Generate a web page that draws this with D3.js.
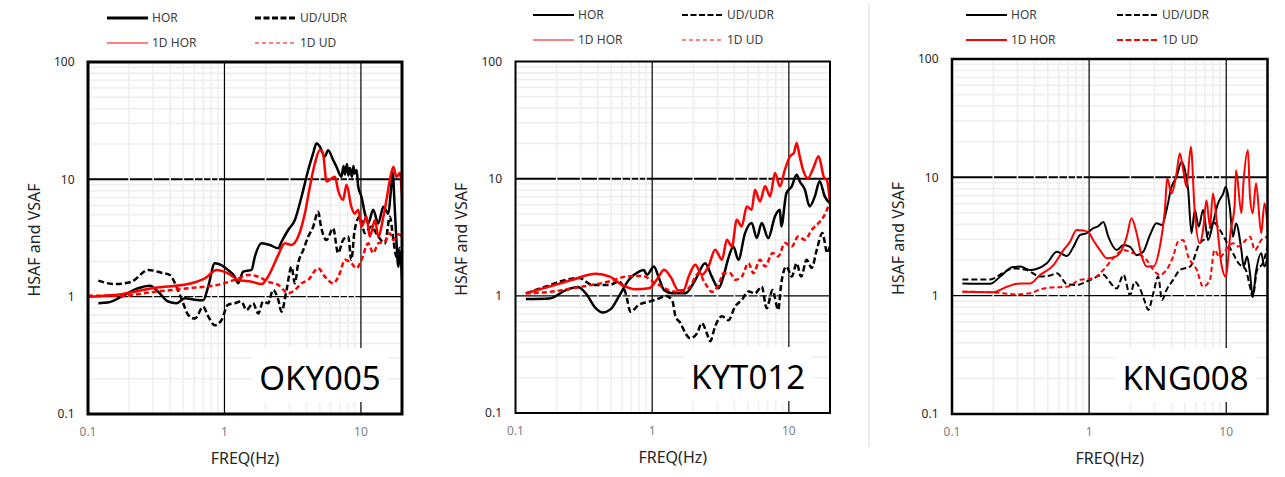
<!DOCTYPE html>
<html>
<head>
<meta charset="utf-8">
<script src="https://cdn.jsdelivr.net/npm/d3@7"></script>
<style>
  body { margin: 0; background: #fff; }
  svg { display: block; }
  text { font-family: "Noto Sans", sans-serif; }
</style>
</head>
<body>
<div id="chart"></div>
<script>
// ---------- data: [frequency Hz, amplification]
var okyHor = [[0.119,0.88],[0.14,0.89],[0.176,1.0],[0.233,1.18],[0.284,1.24],[0.327,1.10],[0.386,0.91],[0.445,0.88],[0.513,0.97],[0.607,0.94],[0.698,0.93],[0.76,1.22],[0.85,1.93],[0.95,1.86],[1.06,1.69],[1.19,1.48],[1.26,1.30],[1.37,1.63],[1.58,1.69],[1.67,2.19],[1.87,2.85],[2.15,2.76],[2.48,2.58],[2.62,2.94],[2.93,3.7],[3.28,4.5],[3.67,7.1],[4.11,12],[4.47,16.7],[4.73,20.3],[5.0,19],[5.44,15.6],[5.75,17.7],[6.26,14.6],[6.62,12.8],[7.2,10.5],[7.45,13],[7.63,11],[7.9,13.5],[8.1,10.8],[8.3,12.5],[8.6,10.5],[8.8,13],[9.0,11.2],[9.3,12],[9.55,8.7],[10.1,7.1],[10.7,5.1],[11.3,4.2],[12.3,5.5],[13.4,4.2],[14.6,5.85],[15.9,5.1],[16.5,7.5],[17.1,11.5],[17.6,6.5],[18.2,3.0],[18.8,1.8],[19.4,2.4],[20,1.4]];
var okyUd = [[0.119,1.37],[0.157,1.28],[0.208,1.34],[0.276,1.69],[0.345,1.60],[0.398,1.53],[0.445,1.22],[0.498,0.88],[0.542,0.70],[0.607,0.65],[0.698,0.82],[0.76,0.68],[0.85,0.57],[0.95,0.63],[1.06,0.85],[1.19,0.88],[1.33,0.91],[1.45,0.77],[1.62,0.88],[1.77,0.72],[1.92,0.91],[2.09,0.88],[2.27,1.14],[2.48,0.94],[2.62,0.745],[2.85,1.14],[3.1,1.80],[3.28,1.30],[3.47,1.93],[3.78,2.5],[4.11,3.25],[4.47,3.95],[4.86,5.3],[5.1,3.95],[5.6,3.04],[6.26,3.83],[6.8,2.35],[7.4,3.04],[8.07,3.25],[8.5,2.06],[9.0,3.7],[9.8,4.8],[10.7,3.47],[11.9,3.95],[13.4,3.25],[15.0,2.85],[16.3,4.8],[17.3,3.04],[18.2,2.19],[19.3,2.6],[20,2.19]];
var okyHor1d = [[0.1,1.0],[0.176,1.05],[0.309,1.19],[0.542,1.28],[0.718,1.43],[0.88,1.69],[1.06,1.58],[1.26,1.39],[1.58,1.34],[1.87,1.28],[2.15,1.58],[2.48,2.27],[2.77,2.85],[3.1,2.76],[3.47,3.25],[3.88,5.1],[4.23,8.7],[4.6,13.7],[5.0,17.8],[5.27,16.7],[5.6,9.6],[6.1,10.2],[6.45,10.5],[6.8,8.1],[7.4,6.7],[7.85,9.0],[8.5,5.85],[9.0,5.1],[9.55,5.5],[10.1,3.95],[11,4.8],[11.6,3.25],[12.7,4.5],[13.4,3.25],[14.6,4.8],[15.4,6.7],[16.3,9.9],[17.3,12.8],[18.2,10.5],[19.3,11.3],[20,7.1]];
var okyUd1d = [[0.1,1.02],[0.176,1.02],[0.309,1.10],[0.542,1.18],[0.95,1.28],[1.26,1.43],[1.49,1.53],[1.77,1.48],[2.09,1.34],[2.48,1.26],[2.93,1.07],[3.28,1.14],[3.67,1.30],[4.11,1.39],[4.86,1.75],[5.44,1.48],[6.26,1.30],[7.0,1.58],[7.63,2.06],[8.5,1.93],[9.3,1.75],[10.1,2.06],[11.3,2.85],[12.3,2.35],[13.4,2.85],[15.0,2.95],[16.3,3.47],[17.3,3.04],[18.8,3.4],[20,3.25]];

var kytHor = [[0.119,0.94],[0.177,0.95],[0.234,1.12],[0.285,1.19],[0.327,1.05],[0.386,0.785],[0.433,0.72],[0.497,0.77],[0.571,0.99],[0.676,1.37],[0.80,1.61],[0.869,1.66],[0.916,1.51],[1.03,1.78],[1.12,1.42],[1.22,1.12],[1.40,1.05],[1.75,1.05],[2.07,1.37],[2.44,1.90],[2.73,1.46],[3.06,1.16],[3.32,1.46],[3.61,2.10],[3.93,2.64],[4.27,2.03],[4.78,3.43],[5.35,4.18],[5.82,3.11],[6.33,4.18],[7.07,3.11],[7.91,4.76],[8.6,5.43],[8.8,3.91],[9.6,7.55],[10.5,8.6],[11.4,10.8],[12.0,9.5],[13.1,8.05],[14.2,5.8],[15.5,7.06],[16.8,9.5],[18.3,7.06],[19.9,6.2]];
var kytUd = [[0.119,1.05],[0.167,1.2],[0.234,1.37],[0.292,1.42],[0.366,1.24],[0.49,1.24],[0.571,1.33],[0.64,1.05],[0.695,0.73],[0.80,0.84],[0.945,0.89],[1.12,0.95],[1.25,1.0],[1.40,0.92],[1.48,0.67],[1.61,0.585],[1.75,0.48],[1.90,0.435],[2.13,0.48],[2.31,0.585],[2.51,0.48],[2.66,0.41],[2.89,0.55],[3.24,0.67],[3.61,0.62],[4.04,0.81],[4.52,0.92],[5.06,1.09],[5.65,1.05],[6.33,1.2],[6.88,0.785],[7.6,1.12],[8.36,0.76],[8.8,1.28],[9.6,1.78],[10.5,1.46],[11.4,1.9],[12.3,1.46],[13.5,2.03],[14.7,1.73],[16.0,2.47],[17.6,3.43],[19.1,2.32],[19.9,2.64]];
var kytHor1d = [[0.119,1.05],[0.177,1.2],[0.261,1.37],[0.386,1.54],[0.49,1.46],[0.60,1.24],[0.755,1.14],[0.945,1.16],[1.12,1.46],[1.22,1.67],[1.36,1.46],[1.56,1.11],[1.7,1.12],[1.85,1.46],[2.07,1.84],[2.31,1.51],[2.58,1.78],[2.89,2.47],[3.24,2.03],[3.52,3.01],[3.83,2.64],[4.16,4.46],[4.52,3.91],[4.92,5.8],[5.35,5.43],[5.65,8.05],[6.15,6.4],[6.7,8.6],[7.3,7.06],[7.91,11.2],[8.6,8.6],[9.35,11.9],[10.2,15.5],[10.9,16.6],[11.4,20.2],[12.0,15.5],[12.7,11.9],[13.8,10.1],[15.1,12.3],[16.5,15.5],[18.0,10.4],[19.1,9.5],[19.9,6.6]];
var kytUd1d = [[0.119,1.05],[0.177,1.08],[0.309,1.2],[0.49,1.33],[0.64,1.46],[0.846,1.48],[1.06,1.28],[1.32,1.12],[1.56,1.08],[1.85,1.16],[2.19,1.56],[2.44,1.28],[2.73,1.08],[3.06,1.24],[3.32,1.56],[3.72,1.56],[4.04,1.37],[4.52,1.46],[5.06,1.9],[5.5,1.56],[6.15,2.03],[6.7,1.78],[7.6,2.32],[8.36,2.17],[9.35,2.82],[10.5,2.64],[11.7,3.21],[13.1,3.01],[14.7,3.66],[16.5,4.18],[18.0,4.76],[19.9,6.2]];

var kngHor = [[0.119,1.27],[0.19,1.26],[0.225,1.45],[0.274,1.74],[0.315,1.76],[0.372,1.65],[0.413,1.68],[0.492,1.88],[0.582,2.35],[0.689,2.16],[0.769,2.59],[0.86,3.26],[0.96,3.38],[1.07,3.71],[1.16,3.85],[1.27,4.2],[1.38,3.15],[1.59,2.43],[1.78,2.68],[1.99,2.59],[2.22,2.2],[2.48,2.35],[2.78,3.26],[3.1,4.09],[3.4,3.95],[3.67,5.3],[3.99,8.3],[4.34,10.1],[4.72,13.5],[5.0,11.5],[5.28,7.8],[5.58,3.37],[5.9,5.3],[6.3,3.83],[6.78,5.3],[7.38,2.95],[8.0,4.08],[8.7,6.0],[9.5,7.3],[9.9,8.3],[10.6,5.65],[11.2,3.15],[11.8,4.08],[12.9,2.43],[13.4,1.76],[14.2,2.14],[14.9,1.55],[15.6,0.98],[16.5,1.6],[18.0,2.28],[19.0,1.76],[20,2.1]];
var kngUd = [[0.119,1.37],[0.19,1.37],[0.232,1.54],[0.28,1.70],[0.35,1.65],[0.44,1.45],[0.52,1.48],[0.582,1.55],[0.689,1.25],[0.81,1.23],[1.02,1.36],[1.27,1.5],[1.41,1.31],[1.59,1.15],[1.78,1.5],[1.99,1.01],[2.15,1.31],[2.37,1.12],[2.55,0.89],[2.7,0.757],[2.94,1.05],[3.19,1.45],[3.4,0.92],[3.67,1.12],[4.1,1.36],[4.6,1.65],[5.45,1.76],[6.4,2.77],[7.2,3.15],[8.0,4.2],[9.0,3.59],[9.9,2.95],[11.2,2.28],[12.3,1.88],[13.9,1.65],[14.9,1.19],[15.6,0.98],[16.8,1.65],[18.5,1.88],[20,2.6]];
var kngHor1d = [[0.119,1.08],[0.2,1.07],[0.252,1.19],[0.315,1.27],[0.372,1.27],[0.44,1.5],[0.55,1.81],[0.65,2.43],[0.727,2.86],[0.81,3.59],[0.91,3.55],[0.99,3.45],[1.07,2.95],[1.2,2.43],[1.35,2.07],[1.59,2.16],[1.73,2.43],[1.88,3.15],[2.04,4.5],[2.22,3.37],[2.42,2.16],[2.63,1.76],[2.94,1.76],[3.28,2.59],[3.57,5.3],[3.71,9.8],[3.99,7.3],[4.34,10.8],[4.59,16.0],[4.86,11.5],[5.13,8.3],[5.52,18.1],[5.9,4.97],[6.41,2.77],[6.78,3.59],[7.18,6.4],[7.6,3.83],[8.0,7.3],[8.5,4.37],[9.2,1.88],[9.9,1.45],[10.8,3.59],[11.5,5.65],[11.8,11.5],[12.9,4.97],[13.4,9.5],[14.4,17.0],[14.9,6.9],[15.6,4.97],[16.5,8.9],[18.0,3.37],[19.0,6.0],[20,3.83]];
var kngUd1d = [[0.119,1.08],[0.19,1.07],[0.298,1.03],[0.372,1.05],[0.44,1.13],[0.52,1.17],[0.689,1.19],[0.86,1.36],[1.07,1.4],[1.27,1.65],[1.5,2.07],[1.78,2.43],[2.1,2.28],[2.37,2.2],[2.63,2.0],[2.94,1.65],[3.28,1.5],[3.67,1.65],[4.1,2.14],[4.46,2.86],[4.85,2.95],[5.28,2.14],[6.1,1.65],[6.78,1.19],[7.6,1.36],[8.2,2.43],[9.0,2.1],[9.9,2.43],[11.2,2.77],[12.3,2.6],[13.9,2.95],[14.9,3.15],[16.2,2.43],[18.0,2.95],[20,3.15]];

var stations = ["OKY005", "KYT012", "KNG008"];
var seriesNames = ["HOR", "UD/UDR", "1D HOR", "1D UD"];
var xTicks = [0.1, 1, 10];
var xTickLabels = ["0.1", "1", "10"];
var yTicks = [0.1, 1, 10, 100];
var yTickLabels = ["0.1", "1", "10", "100"];
var xTitle = "FREQ(Hz)";
var yTitle = "HSAF and VSAF";

// ---------- layout (pixels) per panel
var panels = [
    { left:88, right:402, top:62, bottom:414, frame:3, lw:2.5,
      legX:[107,255], legY:[18,43], legW:[3,3,1,1],
      data:[okyHor, okyUd, okyHor1d, okyUd1d] },
    { left:515.5, right:830, top:61.5, bottom:413, frame:2, lw:2.5,
      legX:[533,682], legY:[15,40], legW:[2,2,1,1],
      data:[kytHor, kytUd, kytHor1d, kytUd1d] },
    { left:952, right:1267.5, top:59, bottom:414, frame:2.5, lw:2,
      legX:[966,1117], legY:[15,40], legW:[2,2,2,2],
      data:[kngHor, kngUd, kngHor1d, kngUd1d] }
];
var colors = ["#000", "#000", "#ff0000", "#ff0000"];
var dashed = [false, true, false, true];

var W = 1285, H = 477;
var svg = d3.select("#chart").append("svg")
    .attr("width", W)
    .attr("height", H);

// separator between panel 2 and 3
svg.append("line")
    .attr("x1", 869).attr("x2", 869)
    .attr("y1", 3).attr("y2", 447)
    .attr("stroke", "#d9d9d9")
    .attr("stroke-width", 1);

var minorX = [], minorY = [];
[0.1, 1, 10].forEach(function(d) {
    for (var m = 2; m <= 9; m++) {
        if (m * d < 20) minorX.push(m * d);
        minorY.push(m * d);
    }
});

panels.forEach(function(p, pi) {
    var x = d3.scaleLog().domain([0.1, 20]).range([p.left, p.right]);
    var y = d3.scaleLog().domain([0.1, 100]).range([p.bottom, p.top]);
    var g = svg.append("g").attr("class", "panel");

    // ---- grid
    g.selectAll(".hminor").data(minorY).enter().append("line")
        .attr("x1", p.left).attr("x2", p.right)
        .attr("y1", function(d) { return y(d); })
        .attr("y2", function(d) { return y(d); })
        .attr("stroke", "#efefef").attr("stroke-width", 1.6);

    g.selectAll(".hmajor").data([1, 10]).enter().append("line")
        .attr("x1", p.left).attr("x2", p.right)
        .attr("y1", function(d) { return y(d); })
        .attr("y2", function(d) { return y(d); })
        .attr("stroke", "#000")
        .attr("stroke-width", function(d) { return d === 10 ? 2 : 1.3; });

    g.selectAll(".vminor").data(minorX).enter().append("line")
        .attr("y1", p.top).attr("y2", p.bottom)
        .attr("x1", function(d) { return x(d); })
        .attr("x2", function(d) { return x(d); })
        .attr("stroke", "#efefef").attr("stroke-width", 1.6);

    g.selectAll(".vmajor").data([1, 10]).enter().append("line")
        .attr("y1", p.top).attr("y2", p.bottom)
        .attr("x1", function(d) { return x(d); })
        .attr("x2", function(d) { return x(d); })
        .attr("stroke", "#000").attr("stroke-width", 1.2);

    // ---- station label with white box
    var label = g.append("text")
        .attr("x", p.right - 82)
        .attr("y", p.bottom - 24)
        .attr("text-anchor", "middle")
        .attr("font-size", 33)
        .attr("fill", "#000")
        .text(stations[pi]);
    var bb = label.node().getBBox();
    g.insert("rect", "text")
        .attr("x", bb.x - 7).attr("y", p.bottom - 66)
        .attr("width", bb.width + 14).attr("height", 54)
        .attr("fill", "#fff");

    // ---- data lines
    var clipId = "clip" + pi;
    svg.append("clipPath").attr("id", clipId)
        .append("rect")
        .attr("x", p.left).attr("y", p.top)
        .attr("width", p.right - p.left).attr("height", p.bottom - p.top);

    var line = d3.line()
        .curve(d3.curveMonotoneX)
        .x(function(d) { return x(d[0]); })
        .y(function(d) { return y(d[1]); });

    // draw black first, red on top
    [1, 0, 3, 2].forEach(function(si) {
        g.append("path")
            .datum(p.data[si])
            .attr("clip-path", "url(#" + clipId + ")")
            .attr("d", line)
            .attr("fill", "none")
            .attr("stroke", colors[si])
            .attr("stroke-width", p.lw)
            .attr("stroke-linejoin", "round")
            .attr("stroke-dasharray", dashed[si] ? (si === 1 ? "6,3" : "5,3") : null);
    });

    // ---- frame
    g.append("rect")
        .attr("x", p.left).attr("y", p.top)
        .attr("width", p.right - p.left).attr("height", p.bottom - p.top)
        .attr("fill", "none")
        .attr("stroke", "#000")
        .attr("stroke-width", p.frame);

    // ---- tick labels
    g.selectAll(".ylab").data(yTicks).enter().append("text")
        .attr("x", p.left - 13.5)
        .attr("y", function(d) { return y(d); })
        .attr("dy", "0.35em")
        .attr("text-anchor", "end")
        .attr("font-size", 12)
        .attr("fill", "#262626")
        .text(function(d, i) { return yTickLabels[i]; });

    g.selectAll(".xlab").data(xTicks).enter().append("text")
        .attr("x", function(d) { return x(d); })
        .attr("y", p.bottom + 18)
        .attr("dy", "0.35em")
        .attr("text-anchor", "middle")
        .attr("font-size", 12)
        .attr("fill", "#808080")
        .text(function(d, i) { return xTickLabels[i]; });

    // ---- axis titles
    g.append("text")
        .attr("x", (p.left + p.right) / 2)
        .attr("y", p.bottom + 44)
        .attr("dy", "0.35em")
        .attr("text-anchor", "middle")
        .attr("font-size", 16)
        .attr("fill", "#262626")
        .text(xTitle);

    g.append("text")
        .attr("transform", "translate(" + (p.left - 54) + "," + ((p.top + p.bottom) / 2 + 2) + ") rotate(-90)")
        .attr("dy", "0.35em")
        .attr("text-anchor", "middle")
        .attr("font-size", 16)
        .attr("fill", "#262626")
        .text(yTitle);

    // ---- legend (2 x 2)
    seriesNames.forEach(function(name, si) {
        var lx = p.legX[si % 2], ly = p.legY[Math.floor(si / 2)];
        var lg = g.append("g").attr("transform", "translate(" + lx + "," + ly + ")");
        lg.append("line")
            .attr("x1", 0).attr("x2", 41)
            .attr("y1", 0).attr("y2", 0)
            .attr("stroke", colors[si])
            .attr("stroke-width", p.legW[si])
            .attr("stroke-dasharray", dashed[si] ? (p.legW[si] > 1.5 ? "6,2.5" : "4,3") : null);
        lg.append("text")
            .attr("x", 45)
            .attr("y", 0)
            .attr("dy", "0.35em")
            .attr("font-size", 12)
            .attr("fill", "#404040")
            .text(name);
    });
});
</script>
</body>
</html>
